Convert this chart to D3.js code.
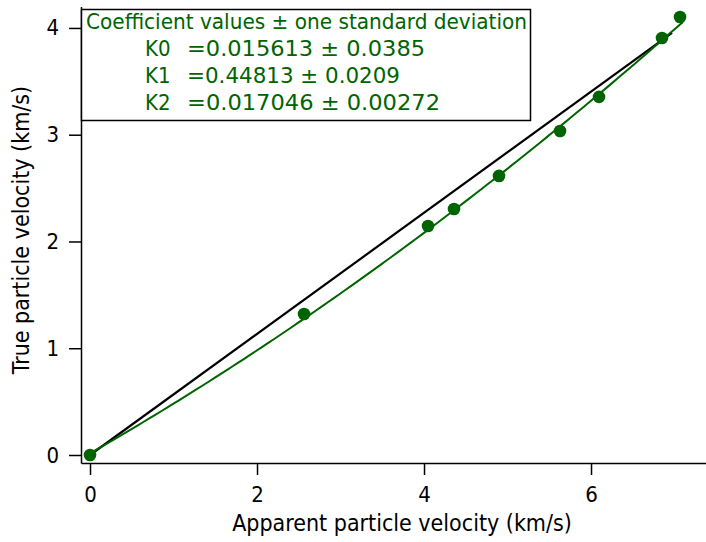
<!DOCTYPE html>
<html>
<head>
<meta charset="utf-8">
<script src="https://cdn.jsdelivr.net/npm/d3@7"></script>
<style>
  html, body { margin: 0; padding: 0; background: #fff; }
  svg { display: block; }
</style>
</head>
<body>
<svg id="chart" width="706" height="542"></svg>
<script>
// Measured particle velocities (km/s)
const apparentVelocity = [0, 2.563, 4.048, 4.359, 4.898, 5.629, 6.096, 6.850, 7.066];
const trueVelocity     = [0, 1.321, 2.145, 2.304, 2.614, 3.035, 3.354, 3.906, 4.103];

// Quadratic fit coefficients: y = K0 + K1*x + K2*x^2
const coefNames  = ["K0", "K1", "K2"];
const coefValues = [0.015613, 0.44813, 0.017046];
const coefLabels = ["=0.015613 ± 0.0385", "=0.44813 ± 0.0209", "=0.017046 ± 0.00272"];
const fitRange = [0, 7.1];

// Linear reference line endpoints
const refX = [0, 6.97];
const refY = [0, 3.953];

const xTicks = [0, 2, 4, 6];
const yTicks = [0, 1, 2, 3, 4];

const GREEN = "#006400";
const FONT = "'DejaVu Sans Condensed', 'DejaVu Sans', sans-serif";
const svg = d3.select("#chart");

const x = d3.scaleLinear().domain([-0.108, 7.377]).range([81, 706]);
const y = d3.scaleLinear().domain([-0.075, 4.2]).range([463, 6.6]);

// Axes
const xAxis = svg.append("g")
  .attr("transform", `translate(0,${y.range()[0]})`)
  .call(d3.axisBottom(x).tickValues(xTicks).tickFormat(d3.format("d"))
    .tickSize(12).tickSizeOuter(0).tickPadding(11));
const yAxis = svg.append("g")
  .attr("transform", `translate(${x.range()[0]},0)`)
  .call(d3.axisLeft(y).tickValues(yTicks).tickFormat(d3.format("d"))
    .tickSize(12).tickSizeOuter(0).tickPadding(10));

[xAxis, yAxis].forEach(g => {
  g.select(".domain").attr("stroke", "#000").attr("stroke-width", 1.5);
  g.selectAll(".tick line").attr("stroke", "#000").attr("stroke-width", 1.5);
  g.selectAll(".tick text")
    .attr("font-family", FONT)
    .attr("font-size", 22).attr("fill", "#000");
});

// Axis titles
svg.append("text")
  .attr("x", 402).attr("y", 531)
  .attr("text-anchor", "middle")
  .attr("font-family", FONT)
  .attr("font-size", 23)
  .text("Apparent particle velocity (km/s)");

svg.append("text")
  .attr("transform", "translate(29,230) rotate(-90)")
  .attr("text-anchor", "middle")
  .attr("font-family", FONT)
  .attr("font-size", 23)
  .text("True particle velocity (km/s)");

// Reference line
const line = d3.line().x(d => x(d[0])).y(d => y(d[1]));
svg.append("path")
  .datum(d3.zip(refX, refY))
  .attr("d", line)
  .attr("fill", "none")
  .attr("stroke", "#000")
  .attr("stroke-width", 2.2);

// Fitted curve
const fitX = d3.range(0, 101).map(i => fitRange[0] + (fitRange[1] - fitRange[0]) * i / 100);
const fitPts = fitX.map(v => [v, coefValues[0] + coefValues[1] * v + coefValues[2] * v * v]);
svg.append("path")
  .datum(fitPts)
  .attr("d", line)
  .attr("fill", "none")
  .attr("stroke", GREEN)
  .attr("stroke-width", 2);

// Data points
svg.append("g")
  .selectAll("circle")
  .data(d3.zip(apparentVelocity, trueVelocity))
  .join("circle")
  .attr("cx", d => x(d[0]))
  .attr("cy", d => y(d[1]))
  .attr("r", 6.3)
  .attr("fill", GREEN);

// Coefficient box
const box = svg.append("g");
box.append("rect")
  .attr("x", 81.5).attr("y", 9.5)
  .attr("width", 449).attr("height", 111)
  .attr("fill", "#fff")
  .attr("stroke", "#000")
  .attr("stroke-width", 1.5);

box.append("text")
  .attr("x", 86).attr("y", 21)
  .attr("dominant-baseline", "central")
  .attr("font-family", FONT).attr("font-size", 22)
  .attr("textLength", 441).attr("lengthAdjust", "spacingAndGlyphs")
  .attr("fill", GREEN)
  .text("Coefficient values ± one standard deviation");

box.selectAll("text.name")
  .data(coefNames)
  .join("text")
  .attr("class", "name")
  .attr("x", 145)
  .attr("y", (d, i) => 48 + i * 27)
  .attr("dominant-baseline", "central")
  .attr("font-family", FONT).attr("font-size", 22)
  .attr("fill", GREEN)
  .text(d => d);

const valueWidths = [238, 213, 253];
box.selectAll("text.val")
  .data(coefLabels)
  .join("text")
  .attr("class", "val")
  .attr("x", 187)
  .attr("y", (d, i) => 48 + i * 27)
  .attr("dominant-baseline", "central")
  .attr("font-family", FONT).attr("font-size", 22)
  .attr("textLength", (d, i) => valueWidths[i]).attr("lengthAdjust", "spacingAndGlyphs")
  .attr("fill", GREEN)
  .text(d => d);
</script>
</body>
</html>
